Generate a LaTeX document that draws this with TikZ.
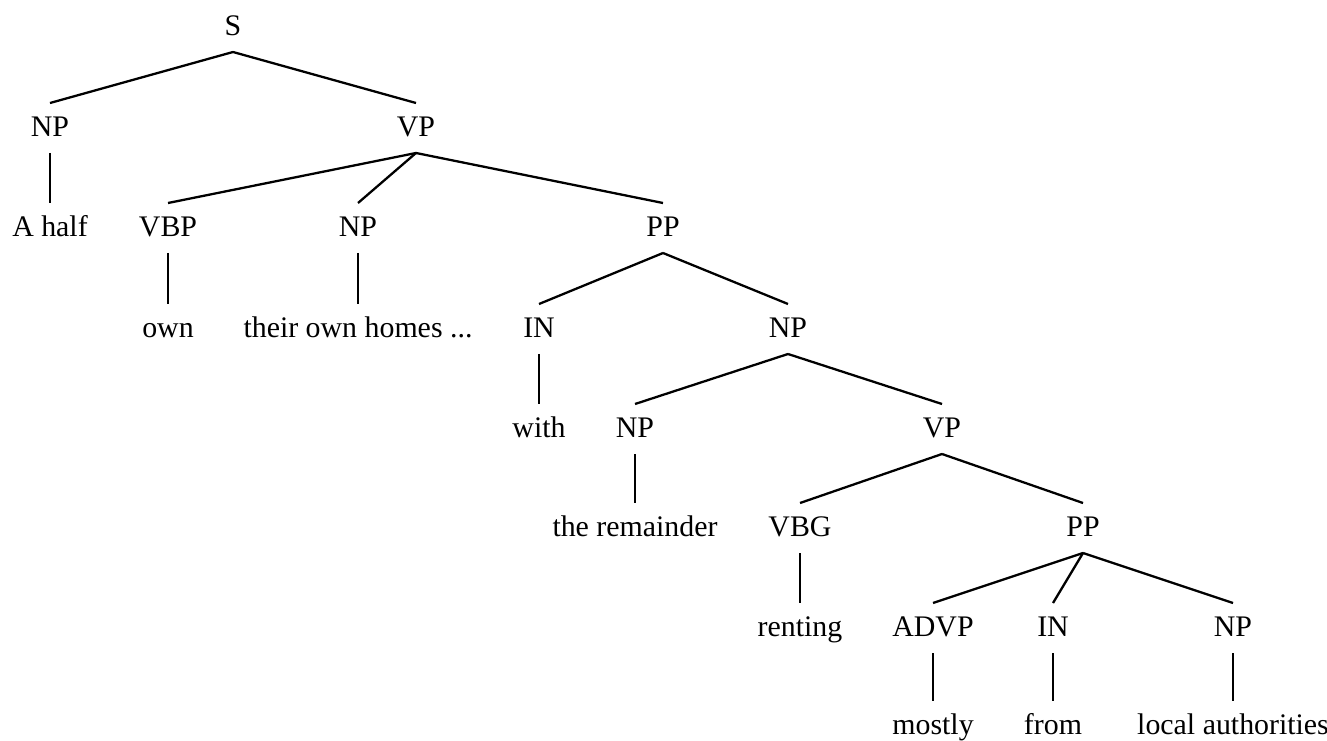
\documentclass[tikz,border=0pt]{standalone}
\usepackage{fontspec}
\setmainfont{Liberation Serif}

\begin{document}
\begin{tikzpicture}[x=0.02cm, y=-0.02cm, line width=1.3pt,
        every node/.style={font=\fontsize{17}{20}\selectfont, text height=0.42cm,
            text depth=0.08cm, inner xsep=2pt, inner ysep=0.25cm, outer sep=0pt}]
            \useasboundingbox (0, 0) rectangle (1327, 740);

            \node at (233, 27)      (s)  {S};

            \node at (50, 128)      (np) {NP};
            \node at (416, 128)     (vp) {VP};

            \node at (50, 228)      (a_half) {A half};
            \node at (168, 228)     (vbp) {VBP};
            \node at (358, 228)     (np_homes) {NP};
            \node at (663, 228)     (pp) {PP};

            \node at (168, 329)     (own) {own};
            \node at (358, 329)     (homes) {their own homes ...};
            \node at (539, 329)     (in_with) {IN};
            \node at (788, 329)     (np_rest) {NP};

            \node at (539, 429)     (with) {with};
            \node at (635, 429)     (np_rem) {NP};
            \node at (942, 429)     (vp_rent) {VP};

            \node at (635, 528)     (remainder) {the remainder};
            \node at (800, 528)     (vbg) {VBG};
            \node at (1083, 528)    (pp_from) {PP};

            \node at (800, 628)     (renting) {renting};
            \node at (933, 628)     (advp) {ADVP};
            \node at (1053, 628)    (in_from) {IN};
            \node at (1233, 628)    (np_auth) {NP};

            \node at (933, 726)     (mostly) {mostly};
            \node at (1053, 726)    (from) {from};
            \node at (1233, 726)    (authorities) {local authorities};

            \draw (s.south) -- (np.north);
            \draw (s.south) -- (vp.north);
            \draw (np.south) -- (a_half.north);

            \draw (vp.south) -- (vbp.north);
            \draw (vp.south) -- (np_homes.north);
            \draw (vp.south) -- (pp.north);
            \draw (vbp.south) -- (own.north);
            \draw (np_homes.south) -- (homes.north);

            \draw (pp.south) -- (in_with.north);
            \draw (pp.south) -- (np_rest.north);
            \draw (in_with.south) -- (with.north);

            \draw (np_rest.south) -- (np_rem.north);
            \draw (np_rest.south) -- (vp_rent.north);
            \draw (np_rem.south) -- (remainder.north);

            \draw (vp_rent.south) -- (vbg.north);
            \draw (vp_rent.south) -- (pp_from.north);
            \draw (vbg.south) -- (renting.north);

            \draw (pp_from.south) -- (advp.north);
            \draw (pp_from.south) -- (in_from.north);
            \draw (pp_from.south) -- (np_auth.north);
            \draw (advp.south) -- (mostly.north);
            \draw (in_from.south) -- (from.north);
            \draw (np_auth.south) -- (authorities.north);
        \end{tikzpicture}
\end{document}
